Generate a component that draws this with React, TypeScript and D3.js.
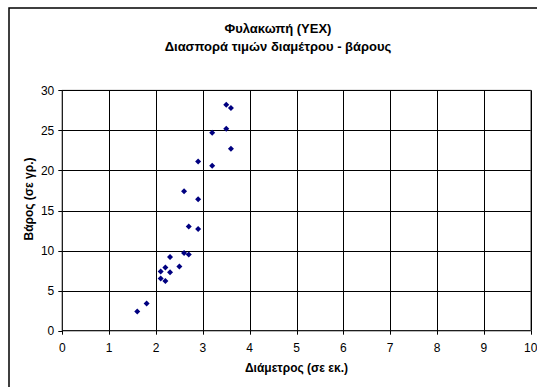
import React from "react";
import * as d3 from "d3";

const diameters = [3.5, 3.6, 3.5, 3.2, 3.6, 2.9, 3.2, 2.6, 2.9, 2.7, 2.9, 2.3, 2.6, 2.7, 2.5, 2.2, 2.1, 2.3, 2.1, 2.2, 1.8, 1.6];
const weights = [28.2, 27.8, 25.2, 24.7, 22.7, 21.1, 20.6, 17.4, 16.4, 13.0, 12.7, 9.2, 9.7, 9.5, 8.0, 7.9, 7.4, 7.3, 6.5, 6.2, 3.4, 2.4];
const xTicks = [0, 1, 2, 3, 4, 5, 6, 7, 8, 9, 10];
const yTicks = [0, 5, 10, 15, 20, 25, 30];
const titleLines = ["Φυλακωπή (YEX)", "Διασπορά τιμών διαμέτρου - βάρους"];
const xLabel = "Διάμετρος (σε εκ.)";
const yLabel = "Βάρος (σε γρ.)";

export default function App() {
  const W = 537;
  const H = 387;
  const left = 62.3, right = 530.7, top = 90.3, bottom = 330.7;
  const x = d3.scaleLinear().domain([0, 10]).range([left, right]);
  const y = d3.scaleLinear().domain([0, 30]).range([bottom, top]);
  const font = "'Liberation Sans', Arial, sans-serif";
  const r = 3;
  const diamond = `M0,${-r}L${r},0L0,${r}L${-r},0Z`;
  const pts = diameters.map((d, i) => ({ x: d, y: weights[i] }));

  return (
    <svg width={W} height={H} style={{ position: "absolute", left: 0, top: 0 }} fontFamily={font}>
      <rect x={0} y={0} width={W} height={H} fill="#fff" />
      <rect x={9} y={8} width={560} height={420} fill="#fff" stroke="#000" strokeWidth={1.5} />
      {titleLines.map((t, i) => (
        <text key={i} x={278} y={33 + i * 18} textAnchor="middle" fontSize={13} fontWeight="bold" fill="#000">
          {t}
        </text>
      ))}
      <rect x={left} y={top} width={right - left} height={bottom - top} fill="#fff" stroke="#808080" strokeWidth={1} />
      {yTicks.filter((t) => t > 0).map((t) => (
        <line key={"h" + t} x1={left} x2={right} y1={Math.round(y(t)) + 0.5} y2={Math.round(y(t)) + 0.5} stroke="#000" strokeWidth={1} />
      ))}
      {xTicks.filter((t) => t > 0).map((t) => (
        <line key={"v" + t} x1={Math.round(x(t)) + 0.5} x2={Math.round(x(t)) + 0.5} y1={top} y2={bottom} stroke="#000" strokeWidth={1} />
      ))}
      <line x1={left} x2={left} y1={top} y2={bottom} stroke="#000" />
      <line x1={left} x2={right} y1={bottom} y2={bottom} stroke="#000" />
      {yTicks.map((t) => (
        <g key={"yt" + t}>
          <line x1={left - 4} x2={left} y1={Math.round(y(t)) + 0.5} y2={Math.round(y(t)) + 0.5} stroke="#000" />
          <text x={left - 8} y={y(t) + 4.5} textAnchor="end" fontSize={12} fill="#000">{t}</text>
        </g>
      ))}
      {xTicks.map((t) => (
        <g key={"xt" + t}>
          <line x1={Math.round(x(t)) + 0.5} x2={Math.round(x(t)) + 0.5} y1={bottom} y2={bottom + 4} stroke="#000" />
          <text x={x(t)} y={bottom + 21} textAnchor="middle" fontSize={12} fill="#000">{t}</text>
        </g>
      ))}
      <text x={(left + right) / 2} y={372} textAnchor="middle" fontSize={12} fontWeight="bold" fill="#000">{xLabel}</text>
      <text transform={`translate(33,199) rotate(-90)`} textAnchor="middle" fontSize={12} fontWeight="bold" fill="#000">{yLabel}</text>
      {pts.map((p, i) => (
        <path key={i} d={diamond} transform={`translate(${x(p.x)},${y(p.y)})`} fill="#000080" />
      ))}
    </svg>
  );
}
